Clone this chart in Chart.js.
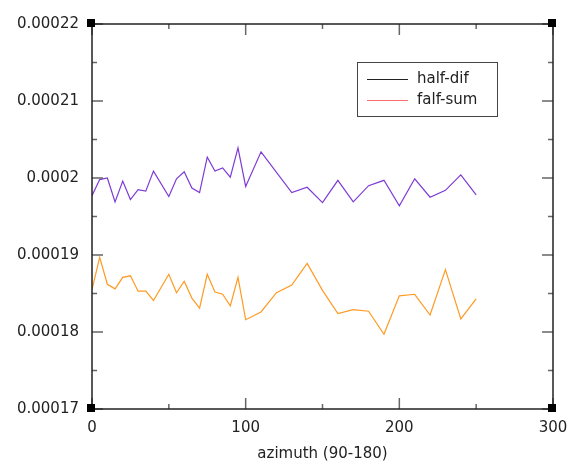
<!DOCTYPE html>
<html>
<head>
<meta charset="utf-8">
<script src="https://cdn.jsdelivr.net/npm/chart.js@4/dist/chart.umd.min.js"></script>
<style>
  html, body { margin: 0; padding: 0; background: #fff; }
  #wrap { width: 568px; height: 465px; }
</style>
</head>
<body>
<div id="wrap"><canvas id="chart"></canvas></div>
<script>
// values (y in units of 1e-6)
const difX = [0, 5, 10, 15, 20, 25, 30, 35, 40, 50, 55, 60, 65, 70, 75, 80, 85, 90, 95, 100, 110, 130, 140, 150, 160, 170, 180, 190, 200, 210, 220, 230, 240, 250];
const difY = [197.7, 199.8, 200.0, 196.9, 199.6, 197.2, 198.5, 198.3, 200.9, 197.6, 199.9, 200.8, 198.7, 198.1, 202.7, 200.9, 201.3, 200.1, 203.9, 198.9, 203.4, 198.1, 198.8, 196.8, 199.7, 196.9, 199.0, 199.7, 196.4, 199.9, 197.5, 198.4, 200.4, 197.8];
const sumX = [0, 5, 10, 15, 20, 25, 30, 35, 40, 50, 55, 60, 65, 70, 75, 80, 85, 90, 95, 100, 110, 120, 130, 140, 150, 160, 170, 180, 190, 200, 210, 220, 230, 240, 250];
const sumY = [185.5, 189.7, 186.2, 185.6, 187.1, 187.3, 185.3, 185.3, 184.1, 187.5, 185.1, 186.6, 184.4, 183.1, 187.5, 185.2, 184.9, 183.4, 187.1, 181.6, 182.6, 185.1, 186.1, 188.9, 185.4, 182.4, 182.9, 182.7, 179.7, 184.7, 184.9, 182.2, 188.1, 181.7, 184.3];

const seriesNames = ["half-dif", "falf-sum"];
const lineColors = ["#7d3ad6", "#ff9a22"];
const legendColors = ["#222222", "#ff6a6a"];

const xTicks = [0, 100, 200, 300];
const xMinor = [50, 150, 250];
const yTicks = [0.00017, 0.00018, 0.00019, 0.0002, 0.00021, 0.00022];
const yMinor = [0.000175, 0.000185, 0.000195, 0.000205, 0.000215];
const xTitle = "azimuth (90-180)";

const FONT = "DejaVu Sans";

function pts(xs, ys) {
  return xs.map((x, i) => ({ x: x, y: ys[i] * 1e-6 }));
}

const frame = {
  id: "frame",
  afterDatasetsDraw(chart) {
    const ctx = chart.ctx;
    const a = chart.chartArea;
    const xs = chart.scales.x, ys = chart.scales.y;
    ctx.save();
    // inward ticks on all sides
    ctx.strokeStyle = "#666";
    ctx.lineWidth = 1.5;
    function tick(v, len, horiz) {
      ctx.beginPath();
      if (horiz) {
        const p = xs.getPixelForValue(v);
        ctx.moveTo(p, a.bottom); ctx.lineTo(p, a.bottom - len);
        ctx.moveTo(p, a.top); ctx.lineTo(p, a.top + len);
      } else {
        const p = ys.getPixelForValue(v);
        ctx.moveTo(a.left, p); ctx.lineTo(a.left + len, p);
        ctx.moveTo(a.right, p); ctx.lineTo(a.right - len, p);
      }
      ctx.stroke();
    }
    xTicks.forEach(v => tick(v, 11, true));
    xMinor.forEach(v => tick(v, 5, true));
    yTicks.forEach(v => tick(v, 11, false));
    yMinor.forEach(v => tick(v, 5, false));

    // frame
    ctx.strokeStyle = "#222";
    ctx.lineWidth = 1.5;
    ctx.strokeRect(a.left, a.top, a.right - a.left, a.bottom - a.top);

    // corner squares
    ctx.fillStyle = "#000";
    [[a.left, a.top], [a.right, a.top], [a.left, a.bottom], [a.right, a.bottom]].forEach(c => {
      ctx.fillRect(c[0] - 5, c[1] - 5, 8, 8);
    });

    // legend box
    ctx.fillStyle = "#fff";
    ctx.fillRect(357, 62, 140, 54);
    ctx.strokeStyle = "#444";
    ctx.lineWidth = 1;
    ctx.strokeRect(357.5, 62.5, 140, 54);
    ctx.font = "15px '" + FONT + "'";
    ctx.textBaseline = "middle";
    seriesNames.forEach((name, i) => {
      const y = 79 + i * 21;
      ctx.strokeStyle = legendColors[i];
      ctx.beginPath();
      ctx.moveTo(367, y + 0.5); ctx.lineTo(408, y + 0.5);
      ctx.stroke();
      ctx.fillStyle = "#222";
      ctx.fillText(name, 417, y);
    });
    ctx.restore();
  }
};

new Chart(document.getElementById("chart"), {
  type: "line",
  data: {
    datasets: [
      { label: seriesNames[0], data: pts(difX, difY), borderColor: lineColors[0], borderWidth: 1.2, pointRadius: 0, tension: 0 },
      { label: seriesNames[1], data: pts(sumX, sumY), borderColor: lineColors[1], borderWidth: 1.2, pointRadius: 0, tension: 0 }
    ]
  },
  options: {
    responsive: true,
    maintainAspectRatio: false,
    animation: false,
    events: [],
    layout: { padding: { left: 0, right: 15, top: 24, bottom: 0 } },
    plugins: { legend: { display: false }, tooltip: { enabled: false } },
    scales: {
      x: {
        type: "linear",
        min: 0, max: 300,
        afterBuildTicks: s => { s.ticks = xTicks.map(v => ({ value: v })); },
        afterFit: s => { s.height = 56; s.paddingLeft = 0; s.paddingRight = 0; },
        grid: { display: false, drawTicks: false },
        border: { display: false },
        ticks: { padding: 10, color: "#222", font: { family: FONT, size: 15 }, maxRotation: 0 },
        title: { display: true, text: xTitle, color: "#222", font: { family: FONT, size: 15 }, padding: { top: 0, bottom: 2 } }
      },
      y: {
        type: "linear",
        min: 0.00017, max: 0.00022,
        afterBuildTicks: s => { s.ticks = yTicks.map(v => ({ value: v })); },
        afterFit: s => { s.width = 92; s.paddingTop = 0; s.paddingBottom = 0; },
        grid: { display: false, drawTicks: false },
        border: { display: false },
        ticks: {
          padding: 13, color: "#222", font: { family: FONT, size: 15 },
          callback: v => String(Number(v.toFixed(5)))
        }
      }
    }
  },
  plugins: [frame]
});
</script>
</body>
</html>
